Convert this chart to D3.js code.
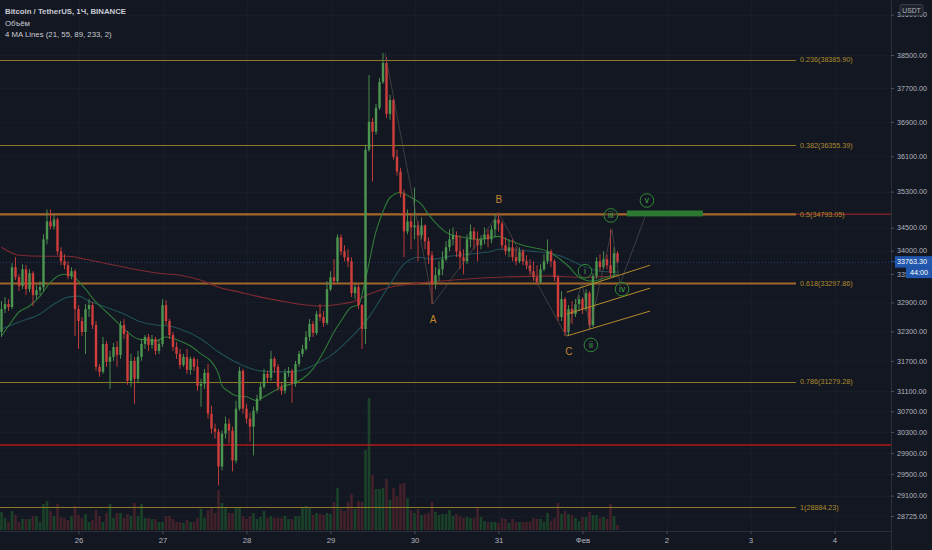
<!DOCTYPE html>
<html>
<head>
<meta charset="utf-8">
<style>
  html, body { margin: 0; padding: 0; background: #131722; }
  svg { display: block; font-family: "Liberation Sans", Arial, sans-serif; }
</style>
</head>
<body>
<script src="https://cdn.jsdelivr.net/npm/d3@7/dist/d3.min.js"></script>
<script>
// BTC/USDT 1h, Binance - hourly candles starting 25 Jan 2021 02:00
var startTime = Date.UTC(2021, 0, 25, 2);
var firstOpen = 32290;
var closes = [32761,32865,32803,33644,33431,33242,33601,33178,33516,33052,
  33157,33220,34245,34637,34527,34681,33985,33771,33687,33453,
  33559,32761,32513,32287,32761,32844,32430,31580,31480,32043,
  31681,31781,31981,31821,32430,32247,31301,31701,31341,31781,
  32043,32186,32023,32145,31902,32043,32844,32513,32227,31983,
  31841,31620,31781,31520,31741,31580,31202,31242,31461,30655,
  30365,30307,29644,30269,30461,30327,29756,30752,31500,30752,
  30558,30404,30713,30947,31182,31441,31361,31741,31580,31182,
  31104,31461,31500,31242,31640,31841,31942,32186,32451,32267,
  32657,32595,32472,33178,33431,33347,34289,33985,33858,33771,
  33094,33220,32844,32349,36252,36900,36667,37228,37846,38305,
  37087,37417,36091,35751,35257,34418,34637,34506,34549,34332,
  34549,34202,33901,33305,33474,33601,33814,34073,34245,34332,
  33985,33858,33771,34245,34418,34245,34115,34245,34354,34245,
  34462,34681,34593,34115,33985,34073,33858,33771,33985,33771,
  33687,33559,33431,33326,33601,33771,33985,33771,33431,32595,
  32969,32288,32761,32657,32865,32969,32761,33094,32430,33453,
  33771,33644,33814,33687,33516,33943,33763.30];
var highs = [32927,33011,32969,33729,33858,33495,33708,33687,33601,33559,
  33263,33347,34354,34901,34901,34791,34725,34073,33922,33771,
  33644,33601,32844,32595,32865,32969,32906,32513,31640,32186,
  32104,31902,32063,32104,32513,32554,32308,31841,31781,31902,
  32145,32227,32247,32227,32186,32145,32969,32948,32554,32288,
  32084,31942,31841,31942,31781,31781,31741,31341,31540,31640,
  30810,30461,30365,30327,30597,30558,30404,30908,31580,31540,
  30849,30675,30791,31025,31262,31540,31500,31902,31781,31640,
  31262,31540,31580,31540,31701,31902,32023,32308,32554,32513,
  32720,32865,32720,33347,33559,33814,34354,34354,34115,34029,
  33858,33284,33284,32865,36367,38015,36993,37323,37943,38548,
  38451,37536,37450,36252,35841,35346,34901,34791,35391,34637,
  34725,34571,34289,33985,33644,33771,33985,34202,34462,34506,
  34418,34332,34029,34354,34571,34506,34418,34332,34506,34462,
  34549,34791,34835,34637,34289,34245,34245,34073,34073,34029,
  33901,33814,33771,33687,33708,33922,34245,34029,33814,33474,
  33136,33011,32844,32927,32969,33052,33011,33178,33136,33516,
  33858,33922,33985,33922,34462,34073,33985];
var lows = [32186,32678,32720,32761,33368,33136,33178,33052,33114,32824,
  32969,33052,33136,34137,34462,34462,33901,33687,33601,33389,
  33389,32206,31942,32206,31841,32595,32349,31500,31381,31441,
  31580,31144,31701,31580,31741,32145,31222,31182,30849,31262,
  31701,31942,31902,31942,31821,31841,31983,32430,32145,31902,
  31741,31540,31580,31441,31421,31500,31104,30791,31144,30558,
  30269,30174,29288,29568,30174,30078,29550,29700,30713,30655,
  30461,30117,29851,30655,30908,31144,31262,31301,31461,31104,
  31025,31045,31381,30869,31182,31580,31781,31902,32104,32186,
  32227,32513,32390,32430,33136,33263,33305,33901,33771,33644,
  33011,32969,32761,31942,32043,36206,35525,36597,37181,37798,
  36993,36946,36023,35660,35168,33858,34354,34029,34245,33771,
  34245,34029,33708,32865,33178,33347,33474,33771,33985,34115,
  33858,33601,33495,33708,34073,34029,33771,34029,34137,34073,
  34159,34289,34418,34029,33901,33858,33771,33687,33729,33687,
  33601,33474,33347,33263,33284,33559,33708,33644,33347,32513,
  32513,32206,32227,32451,32595,32720,32657,32720,32349,32390,
  33389,33559,33601,33601,33431,33431,33729];
var volumes = [1800,1200,800,1900,1500,800,1100,1100,1100,1400,
  1400,800,2600,2900,1900,1400,2600,1300,1200,1000,
  1400,2400,1500,1200,1600,800,1000,2000,1400,800,
  1700,2600,1200,1700,1700,1200,1600,1400,2700,1400,
  2600,1200,1200,1100,1100,800,800,1400,1400,1100,
  800,800,700,1000,800,800,1200,2100,1200,2000,
  2300,1700,4000,2700,2300,1700,1700,2300,2300,1400,
  1100,1400,1700,1100,1300,1900,1200,1400,1200,1200,
  1200,1400,1100,1100,1400,1400,2300,2400,2300,1500,
  1700,1600,1500,1700,1600,2800,4200,2100,1900,2800,
  3600,2100,2900,2800,8000,13200,5500,4100,4100,4200,
  5100,3000,4200,3400,4600,4700,3200,2000,1700,2100,
  1500,1600,1700,2800,1800,1500,1600,1600,2000,1400,
  1600,1400,1200,1300,1200,1200,2300,1300,900,800,
  800,800,700,1200,1100,700,1100,800,800,800,
  800,800,1200,1100,1100,800,1700,900,1200,2700,
  1600,1900,1600,1500,1200,900,1300,1300,1800,1500,
  1500,1200,1300,1100,2600,1400,500];

// moving averages: [candle index, price]
var maFast = [[0,32206],[2,32410],[5,32700],[8,32824],[11,33031],[14,33326],[16,33453],[18,33495],
  [20,33474],[22,33347],[24,33178],[27,32906],[30,32700],[33,32492],[36,32288],[39,32145],
  [42,32124],[44,32104],[47,32186],[51,32104],[54,32003],[57,31841],[60,31681],[62,31441],
  [63,31202],[65,31085],[67,31006],[70,30986],[73,30908],[75,30986],[78,31104],[80,31182],
  [83,31242],[86,31341],[89,31540],[92,31881],[95,32288],[97,32513],[100,32803],[102,32844],
  [104,33389],[107,34418],[109,34857],[111,35168],[114,35279],[117,35168],[120,35012],
  [122,34791],[125,34527],[128,34354],[132,34289],[136,34245],[140,34289],[142,34310],
  [145,34224],[150,34094],[156,33985],[162,33665],[165,33431],[169,33347],[173,33431],[176,33495]];
var maMid = [[0,32349],[5,32492],[11,32657],[15,32865],[19,33011],[22,33031],[25,32927],[29,32824],
  [35,32657],[40,32492],[44,32430],[48,32410],[51,32349],[57,32145],[62,31881],[68,31640],
  [74,31500],[80,31480],[85,31500],[90,31640],[94,31801],[100,32186],[105,32595],[111,33284],
  [115,33708],[119,33858],[123,33814],[128,33879],[133,33922],[140,33985],[142,34029],
  [152,33985],[160,33879],[165,33708],[171,33559],[176,33538]];
var maSlow = [[0,34072],[5,33901],[12,33879],[19,33879],[24,33814],[31,33708],[38,33601],[43,33538],
  [48,33495],[51,33474],[57,33368],[62,33220],[68,33115],[74,33011],[80,32927],[85,32865],
  [91,32824],[97,32865],[100,32906],[105,33073],[111,33220],[117,33284],[122,33326],
  [132,33389],[142,33431],[157,33453],[166,33431],[176,33453]];

var fibLevels = [0.236, 0.382, 0.5, 0.618, 0.786, 1];
var fibPrices = [38385.90, 36355.39, 34793.05, 33297.86, 31279.28, 28884.23];
var redLevels = [34793.05, 30050];
var priceTicks = [39500, 38500, 37700, 36900, 36100, 35300, 34500, 34000, 33500,
  32900, 32300, 31700, 31100, 30700, 30300, 29900, 29500, 29100, 28725];
var dayLabels = ["26", "27", "28", "29", "30", "31", "Фев", "2", "3", "4"];
var lastPrice = 33763.30;

// wave marks: [label, candle index, price]
var waveABC = [["A", 123.3, 32554], ["B", 142.1, 35123], ["C", 162.1, 31902]];
var waveImpulse = [["i", 166.7, 33559], ["ii", 168.4, 32023], ["iii", 174.1, 34769],
  ["iv", 177.3, 33178], ["v", 184.4, 35101]];
var wavePath = [[109.6, 38548], [123.3, 32865], [142.1, 34813], [161.3, 32206], [165.9, 33326],
  [168.1, 32349], [174.4, 34462], [176.7, 33284], [183.9, 34747]];
var channel = [[[161.5, 33115], [185.3, 33687]], [[161.5, 32657], [185.3, 33199]], [[161.5, 32206], [185.3, 32720]]];
var targetZone = [178.7, 200.4, 34747, 34879];

var width = 932, height = 550, plotRight = 891, volBottom = 530;
var hour = 3600e3;
function t(i) { return new Date(startTime + i * hour); }
function crisp(v) { return Math.round(v) + 0.5; }

var x = d3.scaleUtc()
    .domain([t(-0.4286), t(254.14)])
    .range([0, plotRight]);
var y = d3.scaleLog()
    .domain([28725, 38500])
    .range([516, 55]);
var yv = d3.scaleLinear()
    .domain([0, 13200])
    .range([volBottom, 398]);

var candles = closes.map(function(c, i) {
  var o = i == 0 ? firstOpen : closes[i - 1];
  return { i: i, o: o, c: c, h: highs[i], l: lows[i], v: volumes[i], up: c >= o };
});

var svg = d3.select("body").append("svg")
    .attr("width", width)
    .attr("height", height);

svg.append("rect").attr("width", width).attr("height", height).attr("fill", "#131722");

var plot = svg.append("g");
var dayTicks = d3.utcDay.range(new Date(Date.UTC(2021, 0, 26)), new Date(Date.UTC(2021, 1, 5)));

// faint grid
plot.selectAll(".vg").data(dayTicks).join("line")
    .attr("x1", d => crisp(x(d))).attr("x2", d => crisp(x(d)))
    .attr("y1", 0).attr("y2", volBottom)
    .attr("stroke", "#181c27");
plot.selectAll(".hg").data(priceTicks).join("line")
    .attr("x1", 0).attr("x2", plotRight)
    .attr("y1", d => crisp(y(d))).attr("y2", d => crisp(y(d)))
    .attr("stroke", "#181c27");

// volume
plot.append("g").selectAll("rect").data(candles).join("rect")
    .attr("x", d => x(t(d.i)) - 1.3)
    .attr("width", 2.6)
    .attr("y", d => yv(d.v))
    .attr("height", d => volBottom - yv(d.v))
    .attr("fill", d => d.up ? "#1a4229" : "#43212a");

// horizontal lines (red)
plot.selectAll(".red").data(redLevels).join("line")
    .attr("x1", 0).attr("x2", plotRight)
    .attr("y1", d => y(d)).attr("y2", d => y(d))
    .attr("stroke", (d, i) => i == 0 ? "#7a1f24" : "#b3171c")
    .attr("stroke-width", 1.5);

// fib levels
function bold(i) { return fibLevels[i] == 0.5 || fibLevels[i] == 0.618; }
plot.selectAll(".fib").data(fibPrices).join("line")
    .attr("x1", 0).attr("x2", 796)
    .attr("y1", (d, i) => bold(i) ? y(d) : crisp(y(d)))
    .attr("y2", (d, i) => bold(i) ? y(d) : crisp(y(d)))
    .attr("stroke", (d, i) => bold(i) ? "#a2672a" : "#8f7826")
    .attr("stroke-width", (d, i) => bold(i) ? 2.2 : 1);
plot.selectAll(".fibt").data(fibPrices).join("text")
    .attr("x", 800)
    .attr("y", d => y(d) + 2.5)
    .attr("font-size", "7.2px")
    .attr("fill", "#ae8b2c")
    .text((d, i) => fibLevels[i] + "(" + d.toFixed(2) + ")");

// last price dotted line
plot.append("line")
    .attr("x1", 0).attr("x2", plotRight)
    .attr("y1", crisp(y(lastPrice))).attr("y2", crisp(y(lastPrice)))
    .attr("stroke", "#2f5cae").attr("stroke-opacity", 0.5)
    .attr("stroke-dasharray", "1,2");

// moving averages
var maLine = d3.line().x(d => x(t(d[0]))).y(d => y(d[1])).curve(d3.curveMonotoneX);
[[maSlow, "#7e2a31"], [maMid, "#1f5156"], [maFast, "#2f7b38"]].forEach(function(m) {
  plot.append("path").attr("d", maLine(m[0]))
      .attr("fill", "none").attr("stroke", m[1]).attr("stroke-width", 1.1);
});

// candles
var cg = plot.append("g");
cg.selectAll("line").data(candles).join("line")
    .attr("x1", d => x(t(d.i))).attr("x2", d => x(t(d.i)))
    .attr("y1", d => y(d.h)).attr("y2", d => y(d.l))
    .attr("stroke", d => d.up ? "#4c9650" : "#cf3e3b")
    .attr("stroke-width", 0.9);
cg.selectAll("rect").data(candles).join("rect")
    .attr("x", d => x(t(d.i)) - 1.2)
    .attr("width", 2.4)
    .attr("y", d => y(Math.max(d.o, d.c)))
    .attr("height", d => Math.max(0.8, Math.abs(y(d.o) - y(d.c))))
    .attr("fill", d => d.up ? "#4c9650" : "#cf3e3b");

// wave path
plot.append("path")
    .attr("d", d3.line().x(d => x(t(d[0]))).y(d => y(d[1]))(wavePath))
    .attr("fill", "none").attr("stroke", "#5d5750").attr("stroke-opacity", 0.75)
    .attr("stroke-width", 0.8);

// channel
plot.selectAll(".ch").data(channel).join("line")
    .attr("x1", d => x(t(d[0][0]))).attr("y1", d => y(d[0][1]))
    .attr("x2", d => x(t(d[1][0]))).attr("y2", d => y(d[1][1]))
    .attr("stroke", "#b38d2a").attr("stroke-width", 1);

// target zone
plot.append("rect")
    .attr("x", x(t(targetZone[0])))
    .attr("width", x(t(targetZone[1])) - x(t(targetZone[0])))
    .attr("y", y(targetZone[3]))
    .attr("height", y(targetZone[2]) - y(targetZone[3]))
    .attr("fill", "#2c7a31");

// wave labels
plot.selectAll(".abc").data(waveABC).join("text")
    .attr("x", d => x(t(d[1]))).attr("y", d => y(d[2]) + 4)
    .attr("text-anchor", "middle")
    .attr("font-size", "10px")
    .attr("fill", "#c4862b")
    .text(d => d[0]);
var imp = plot.selectAll(".imp").data(waveImpulse).join("g")
    .attr("transform", d => "translate(" + x(t(d[1])) + "," + y(d[2]) + ")");
imp.append("circle").attr("r", 6.8)
    .attr("fill", "#131722").attr("fill-opacity", 0.4)
    .attr("stroke", "#2f8a36").attr("stroke-width", 1);
imp.append("text").attr("y", 3)
    .attr("text-anchor", "middle")
    .attr("font-size", "8.5px")
    .attr("fill", "#45a64b")
    .text(d => d[0]);

// time axis
svg.append("line").attr("x1", 0).attr("x2", plotRight).attr("y1", 531.5).attr("y2", 531.5)
    .attr("stroke", "#2a2e39");
var xAxis = svg.append("g")
    .attr("transform", "translate(0,531)")
    .call(d3.axisBottom(x).tickValues(dayTicks).tickSize(3).tickPadding(3)
      .tickFormat((d, i) => dayLabels[i]));
xAxis.select(".domain").remove();
xAxis.selectAll("line").attr("stroke", "#4a4e59");
xAxis.selectAll("text").attr("fill", "#b2b5be").attr("font-size", "7.8px")
    .attr("font-family", "Liberation Sans, Arial, sans-serif");

// price axis
svg.append("line").attr("x1", plotRight + 0.5).attr("x2", plotRight + 0.5).attr("y1", 0).attr("y2", height)
    .attr("stroke", "#2a2e39");
var yAxis = svg.append("g")
    .attr("transform", "translate(" + plotRight + ",0)")
    .call(d3.axisRight(y).tickValues(priceTicks).tickSize(3).tickPadding(3)
      .tickFormat(d3.format(".2f")));
yAxis.select(".domain").remove();
yAxis.selectAll("line").attr("stroke", "#4a4e59");
yAxis.selectAll("text").attr("fill", "#b2b5be").attr("font-size", "7.2px")
    .attr("font-family", "Liberation Sans, Arial, sans-serif");

// last price badge
var ly = y(lastPrice);
svg.append("rect").attr("x", 895).attr("y", ly - 5.5).attr("width", 37).attr("height", 11.5).attr("fill", "#2157ac");
svg.append("rect").attr("x", 906).attr("y", ly + 5.5).attr("width", 26).attr("height", 11).attr("fill", "#2157ac");
svg.append("line").attr("x1", plotRight).attr("x2", 895).attr("y1", ly).attr("y2", ly).attr("stroke", "#2157ac");
svg.append("text").attr("x", 897).attr("y", ly + 2.6).attr("font-size", "7.2px").attr("fill", "#ffffff")
    .text(d3.format(".2f")(lastPrice));
svg.append("text").attr("x", 910).attr("y", ly + 13.6).attr("font-size", "7.2px").attr("fill", "#ffffff")
    .text("44:00");

// currency badge
svg.append("rect").attr("x", 900).attr("y", 4.5).attr("width", 23).attr("height", 11).attr("rx", 2)
    .attr("fill", "#1e222d").attr("stroke", "#434651").attr("stroke-width", 0.8);
svg.append("text").attr("x", 911.5).attr("y", 12.5).attr("text-anchor", "middle")
    .attr("font-size", "6.8px").attr("fill", "#b2b5be").text("USDT");

// legend
var legend = ["Bitcoin / TetherUS, 1Ч, BINANCE", "Объём", "4 MA Lines (21, 55, 89, 233, 2)"];
svg.selectAll(".lg").data(legend).join("text")
    .attr("x", 5).attr("y", (d, i) => 14 + i * 11.7)
    .attr("font-size", "7.8px")
    .attr("font-weight", (d, i) => i == 0 ? "bold" : "normal")
    .attr("fill", "#c9ccd4")
    .text(d => d);
</script>
</body>
</html>
